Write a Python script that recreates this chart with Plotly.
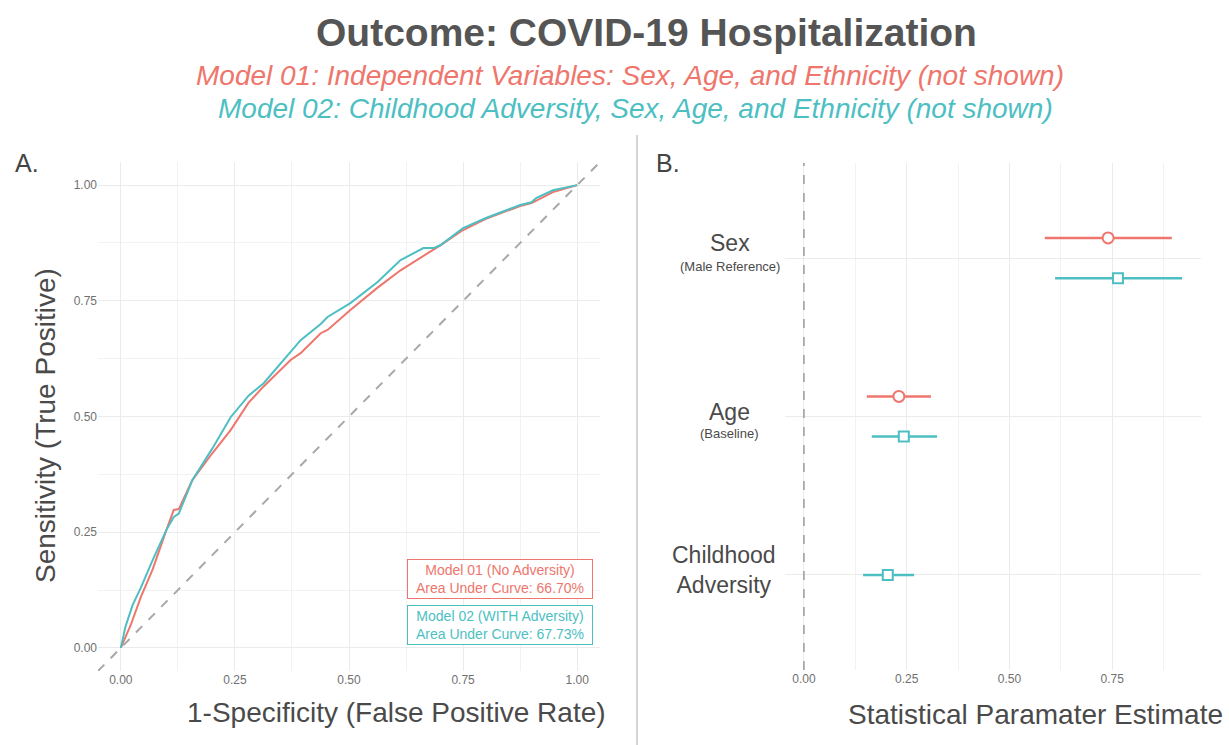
import plotly.graph_objects as go

W, H = 1229, 745

# ---------------- data ----------------
# ROC curves (1-specificity, sensitivity)
m1_fpr = [0, 0.022, 0.044, 0.07, 0.10, 0.116, 0.127, 0.157, 0.20, 0.241, 0.28, 0.313, 0.372,
          0.394, 0.438, 0.453, 0.503, 0.562, 0.613, 0.685, 0.70, 0.75, 0.80, 0.875, 0.90,
          0.947, 1.0]
m1_tpr = [0, 0.05, 0.11, 0.17, 0.255, 0.298, 0.30, 0.363, 0.42, 0.471, 0.53, 0.565, 0.622,
          0.637, 0.68, 0.687, 0.73, 0.778, 0.816, 0.86, 0.87, 0.903, 0.927, 0.955, 0.961,
          0.985, 1.0]
m2_fpr = [0, 0.01, 0.026, 0.044, 0.07, 0.10, 0.116, 0.127, 0.157, 0.20, 0.241, 0.28, 0.313,
          0.372, 0.394, 0.438, 0.453, 0.503, 0.562, 0.613, 0.663, 0.685, 0.70, 0.75, 0.80,
          0.875, 0.90, 0.91, 0.947, 1.0]
m2_tpr = [0, 0.045, 0.093, 0.13, 0.19, 0.255, 0.283, 0.29, 0.363, 0.43, 0.499, 0.545, 0.572,
          0.639, 0.665, 0.70, 0.715, 0.745, 0.790, 0.838, 0.864, 0.864, 0.87, 0.907, 0.929,
          0.957, 0.963, 0.972, 0.989, 1.0]

model_names = ["Model 01 (No Adversity)", "Model 02 (WITH Adversity)"]
auc_values = [66.70, 67.73]

# Coefficient estimates
terms = ["Sex", "Age", "Childhood Adversity"]
term_labels = ["Sex", "Age", "Childhood<br>Adversity"]
term_sublabels = ["(Male Reference)", "(Baseline)", ""]
m1_terms = ["Sex", "Age"]
m1_est = [0.740, 0.231]
m1_lo = [0.586, 0.153]
m1_hi = [0.895, 0.309]
m2_terms = ["Sex", "Age", "Childhood Adversity"]
m2_est = [0.764, 0.243, 0.204]
m2_lo = [0.611, 0.165, 0.144]
m2_hi = [0.920, 0.324, 0.268]

x_ticks_roc = [0, 0.25, 0.5, 0.75, 1.0]
x_ticks_est = [0, 0.25, 0.5, 0.75]

# ---------------- style ----------------
RED = "#EE766D"
TEAL = "#4DBFC3"
GRID = "#ebebeb"
MINOR = "#f2f2f2"
TICKCOL = "#707070"
TXT = "#555555"
FONT = "Liberation Sans, Arial, sans-serif"
DODGE = 0.127

def px(x):
    return x / W

def py(y):
    return 1 - y / H

fig = go.Figure()

# ---- Panel A ----
roc_range = [-0.05, 1.05]
fig.add_trace(go.Scatter(x=roc_range, y=roc_range, mode="lines",
                         line=dict(color="#a8a8a8", width=2, dash="dash"),
                         xaxis="x", yaxis="y", hoverinfo="skip"))
fig.add_trace(go.Scatter(x=m1_fpr, y=m1_tpr, mode="lines", line=dict(color=RED, width=2),
                         xaxis="x", yaxis="y", name=model_names[0]))
fig.add_trace(go.Scatter(x=m2_fpr, y=m2_tpr, mode="lines", line=dict(color=TEAL, width=2),
                         xaxis="x", yaxis="y", name=model_names[1]))

# ---- Panel B ----
term_pos = {t: len(terms) - i for i, t in enumerate(terms)}

def ypos(term, model_idx):
    n = (term in m1_terms) + (term in m2_terms)
    if n == 1:
        return term_pos[term]
    return term_pos[term] + (DODGE if model_idx == 0 else -DODGE)

y1 = [ypos(t, 0) for t in m1_terms]
y2 = [ypos(t, 1) for t in m2_terms]

fig.add_trace(go.Scatter(
    x=m1_est, y=y1, mode="markers", xaxis="x2", yaxis="y2",
    marker=dict(symbol="circle", size=11, color="white", line=dict(color=RED, width=2)),
    error_x=dict(type="data", symmetric=False,
                 array=[h - e for h, e in zip(m1_hi, m1_est)],
                 arrayminus=[e - l for e, l in zip(m1_est, m1_lo)],
                 color=RED, thickness=2.5, width=0)))
fig.add_trace(go.Scatter(
    x=m2_est, y=y2, mode="markers", xaxis="x2", yaxis="y2",
    marker=dict(symbol="square", size=10, color="white", line=dict(color=TEAL, width=2)),
    error_x=dict(type="data", symmetric=False,
                 array=[h - e for h, e in zip(m2_hi, m2_est)],
                 arrayminus=[e - l for e, l in zip(m2_est, m2_lo)],
                 color=TEAL, thickness=2.5, width=0)))

tickfont = dict(family=FONT, size=12, color=TICKCOL)

fig.update_layout(
    width=W, height=H, margin=dict(l=0, r=0, t=0, b=0),
    paper_bgcolor="white", plot_bgcolor="white", showlegend=False,
    font=dict(family=FONT, color=TXT),
    xaxis=dict(domain=[px(98), px(600)], range=roc_range, tickmode="array",
               tickvals=x_ticks_roc, ticktext=[f"{v:.2f}" for v in x_ticks_roc],
               showgrid=True, gridcolor=GRID, gridwidth=1, zeroline=False, showline=False,
               ticks="", tickfont=tickfont,
               minor=dict(dtick=0.125, tick0=0, showgrid=True, gridcolor=MINOR, gridwidth=1),
               anchor="y"),
    yaxis=dict(domain=[py(671), py(162)], range=roc_range, tickmode="array",
               tickvals=x_ticks_roc, ticktext=[f"{v:.2f}" for v in x_ticks_roc],
               showgrid=True, gridcolor=GRID, gridwidth=1, zeroline=False, showline=False,
               ticks="", tickfont=tickfont,
               minor=dict(dtick=0.125, tick0=0, showgrid=True, gridcolor=MINOR, gridwidth=1),
               anchor="x"),
    xaxis2=dict(domain=[px(785), px(1201)], range=[-0.046, 0.966], tickmode="array",
                tickvals=x_ticks_est, ticktext=[f"{v:.2f}" for v in x_ticks_est],
                showgrid=True, gridcolor=GRID, gridwidth=1, zeroline=False, showline=False,
                ticks="", tickfont=tickfont,
                minor=dict(dtick=0.125, tick0=0, showgrid=True, gridcolor=MINOR, gridwidth=1),
                anchor="y2"),
    yaxis2=dict(domain=[py(670), py(163)], range=[0.4, 3.6], tickmode="array",
                tickvals=list(term_pos.values()), showticklabels=False,
                showgrid=True, gridcolor=GRID, gridwidth=1, zeroline=False, showline=False,
                ticks="", anchor="x2"),
)

# dashed reference line at 0 in panel B
fig.add_shape(type="line", xref="x2", yref="y2 domain", x0=0, x1=0, y0=0, y1=1,
              line=dict(color="#9a9a9a", width=1.5, dash="dash"))
# panel separator
fig.add_shape(type="line", xref="paper", yref="paper", x0=px(637), x1=px(637),
              y0=0, y1=py(135), line=dict(color="#d4d4d4", width=2))

ann = []
def text(x, y, s, size, color=TXT, **kw):
    ann.append(dict(xref="paper", yref="paper", x=px(x), y=py(y), text=s, showarrow=False,
                    xanchor=kw.pop("xanchor", "center"), yanchor=kw.pop("yanchor", "middle"),
                    font=dict(family=FONT, size=size, color=color), **kw))

text(646, 33, "<b>Outcome: COVID-19 Hospitalization</b>", 39, "#555555")
text(630, 76, "<i>Model 01: Independent Variables: Sex, Age, and Ethnicity (not shown)</i>", 28, RED)
text(635, 108, "<i>Model 02: Childhood Adversity, Sex, Age, and Ethnicity (not shown)</i>", 28, TEAL)

text(27, 163, "A.", 25, "#444444")
text(668, 163, "B.", 25, "#444444")

text(396, 712, "1-Specificity (False Positive Rate)", 28, "#4a4a4a")
text(1035, 714, "Statistical Paramater Estimate", 28, "#4a4a4a")
text(45, 426, "Sensitivity (True Positive)", 28, "#4a4a4a", textangle=-90)

# legend boxes with AUC
for i, (nm, a, col, cy) in enumerate(zip(model_names, auc_values, [RED, TEAL], [579, 625])):
    ann.append(dict(xref="paper", yref="paper", x=px(499.5), y=py(cy), showarrow=False,
                    xanchor="center", yanchor="middle",
                    text=f"{nm}<br>Area Under Curve: {a:.2f}%",
                    font=dict(family=FONT, size=14, color=col), align="center",
                    bordercolor=col, borderwidth=1, borderpad=1, bgcolor="white",
                    width=182, height=36))

# term labels for panel B
label_centers = [(730, 243, 266), (730, 412, 433), (724, 570, None)]
for lab, sub, (cx, cy, sy) in zip(term_labels, term_sublabels, label_centers):
    text(cx, cy, lab, 23, "#4a4a4a")
    if sub:
        text(cx, sy, sub, 13, "#4a4a4a")

fig.update_layout(annotations=ann)
fig.write_html("out.html", config={"displayModeBar": False},
               post_script="document.body.style.margin='0px';document.body.style.overflow='hidden';")
